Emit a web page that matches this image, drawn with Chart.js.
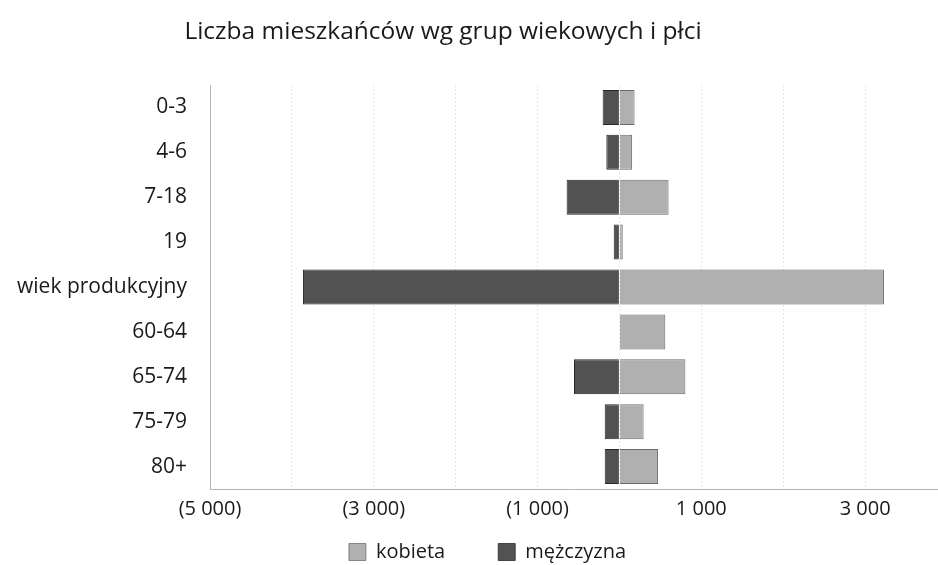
<!DOCTYPE html>
<html>
<head>
<meta charset="utf-8">
<script src="https://cdn.jsdelivr.net/npm/chart.js@4/dist/chart.umd.min.js"></script>
<style>
  html, body { margin: 0; padding: 0; background: #fff; }
  #wrap { position: relative; width: 938px; height: 565px; }
  #title { position: absolute; top: 13px; left: 0; width: 886px; text-align: center;
           font-family: "Open Sans", sans-serif; font-size: 24.5px; color: #1a1a1a; }
  canvas { position: absolute; left: 0; top: 0; }
</style>
</head>
<body>
<div id="wrap">
  <canvas id="c" width="938" height="565"></canvas>
  <div id="title">Liczba mieszkańców wg grup wiekowych i płci</div>
</div>
<script>
const categories = ['0-3', '4-6', '7-18', '19', 'wiek produkcyjny', '60-64', '65-74', '75-79', '80+'];
const kobieta = [185, 155, 600, 40, 3230, 560, 805, 295, 470];
const mezczyzna = [-205, -160, -645, -70, -3865, 0, -555, -180, -180];
const xTicks = [-5000, -3000, -1000, 1000, 3000];

function fmt(v) {
  const s = Math.abs(v).toString().replace(/\B(?=(\d{3})+(?!\d))/g, ' ');
  return v < 0 ? '(' + s + ')' : s;
}

const FONT = '"Open Sans", sans-serif';

// widen the label clip boxes of the axes after layout
const labelRoom = {
  id: 'labelRoom',
  afterLayout(chart) {
    const x = chart.scales.x;
    x.bottom = x.top + 45; x.height = 45;
    const y = chart.scales.y;
    y.left = 0; y.width = y.right;
  }
};

new Chart(document.getElementById('c'), {
  type: 'bar',
  data: {
    labels: categories,
    datasets: [
      { label: 'kobieta', data: kobieta, backgroundColor: '#b0b0b0', borderColor: '#6a6a6a',
        borderWidth: { top: 1, bottom: 1, left: 0, right: 1 }, borderSkipped: false,
        barPercentage: 0.78, categoryPercentage: 1 },
      { label: 'mężczyzna', data: mezczyzna, backgroundColor: '#525252', borderColor: '#262626',
        borderWidth: { top: 1, bottom: 1, left: 1, right: 0 }, borderSkipped: false,
        barPercentage: 0.78, categoryPercentage: 1 }
    ]
  },
  plugins: [labelRoom],
  options: {
    indexAxis: 'y',
    responsive: false,
    animation: false,
    layout: { padding: { top: 85, left: 37, right: 0, bottom: -7 } },
    plugins: {
      title: { display: false },
      tooltip: { enabled: false },
      legend: {
        position: 'bottom',
        labels: { font: { family: FONT, size: 20 }, color: '#1a1a1a', boxWidth: 17, boxHeight: 17, padding: 53 }
      }
    },
    scales: {
      x: {
        stacked: true,
        min: -5000, max: 3890,
        afterFit(scale) { scale.height = 0; },
        afterBuildTicks(scale) {
          const t = [];
          for (let v = -5000; v <= 3000; v += 1000) t.push({ value: v });
          scale.ticks = t;
        },
        grid: { drawTicks: false, color: '#e8e8e8', lineWidth: 1 },
        border: { display: true, color: '#b5b5b5', dash: [2, 2] },
        ticks: {
          autoSkip: false, maxRotation: 0, padding: 8,
          font: { family: FONT, size: 20 }, color: '#1a1a1a',
          callback(v) { return xTicks.includes(v) ? fmt(v) : ''; }
        }
      },
      y: {
        stacked: true,
        afterFit(scale) { scale.width = 173; },
        grid: { display: false, drawTicks: false },
        border: { display: true, color: '#b5b5b5' },
        ticks: { padding: 23, font: { family: FONT, size: 21 }, color: '#1a1a1a' }
      }
    }
  }
});
</script>
</body>
</html>
